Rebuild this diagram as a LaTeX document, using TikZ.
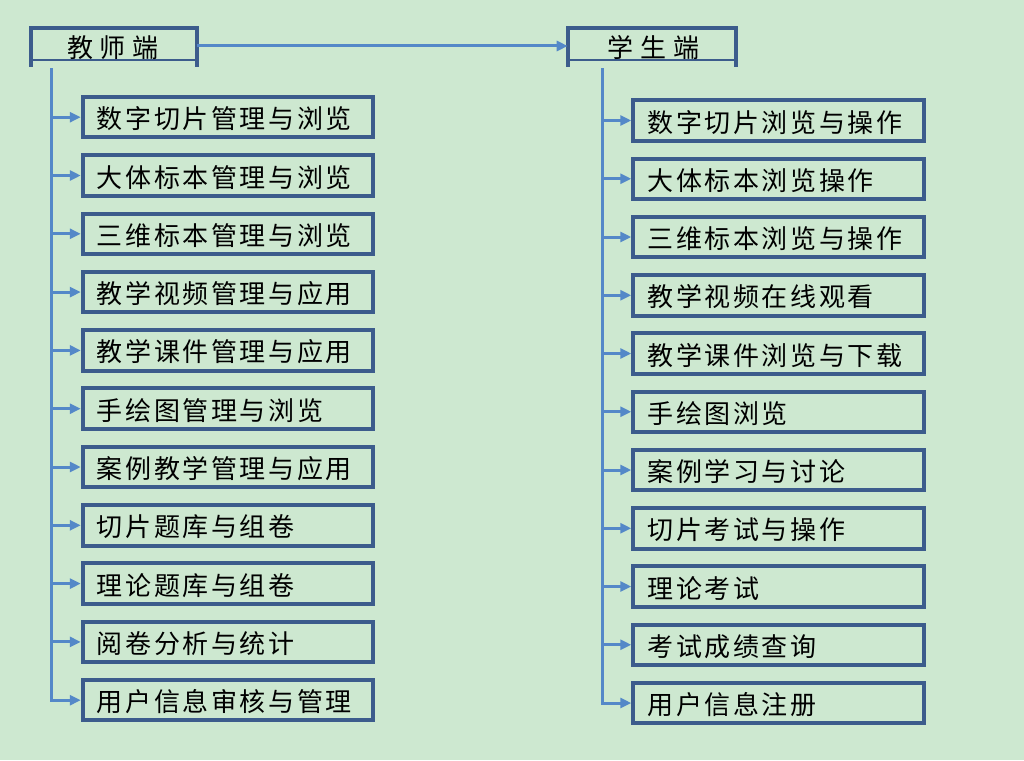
\documentclass[tikz,border=0pt]{standalone}
\usepackage{fontspec}
\usetikzlibrary{arrows.meta}
\newfontfamily\cjk{Noto Sans CJK SC}[LetterSpace=10]
\newfontfamily\cjkh{Noto Sans CJK SC}[LetterSpace=26]
\definecolor{bg}{RGB}{205,232,208}
\definecolor{boxblue}{RGB}{60,92,140}
\definecolor{linkblue}{RGB}{84,136,200}
\begin{document}
\begin{tikzpicture}[x=1pt,y=-1pt,
  bx/.style={draw=boxblue, line width=4pt, rectangle, minimum width=290.5pt, minimum height=40.5pt, inner sep=0pt},
  lbl/.style={anchor=base west, inner sep=0pt, font={\fontsize{26}{30}\selectfont\cjk}, text=black},
  hlbl/.style={anchor=base west, inner sep=0pt, font={\fontsize{26}{30}\selectfont\cjkh}, text=black},
  hd/.style={rectangle, inner sep=0pt, outer sep=0pt, minimum height=38pt},
  hdline/.style={draw=boxblue, line width=4pt},
  thinline/.style={draw=boxblue, line width=1.5pt},
  conn/.style={draw=linkblue, line width=3pt},
  arr/.style={conn, -{Triangle[length=11pt,width=10pt]}}
]
\fill[bg] (0,0) rectangle (1024,760);
\useasboundingbox (0,0) rectangle (1024,760);

% headers
\node[hd, minimum width=165.7pt] (th) at (113.85,47.5) {};
\node[hd, minimum width=168pt] (sh) at (651.7,47.5) {};
\draw[hdline] (th.south west) -- (th.north west) -- (th.north east) -- (th.south east);
\draw[hdline] (sh.south west) -- (sh.north west) -- (sh.north east) -- (sh.south east);
\draw[thinline] ([xshift=2pt,yshift=6.5pt]th.south west) -- ([xshift=-2pt,yshift=6.5pt]th.south east);
\draw[thinline] ([xshift=2pt,yshift=6.5pt]sh.south west) -- ([xshift=-2pt,yshift=6.5pt]sh.south east);
\node[hlbl] (thl) at ([xshift=36pt,yshift=8.7pt]th.south west) {教师端};
\node[hlbl] (shl) at ([xshift=39.6pt,yshift=8.7pt]sh.south west) {学生端};
\draw[arr] ([yshift=1.5pt]th.east) -- ([yshift=1.5pt]sh.west);

\coordinate (tt) at (51,68);
\coordinate (st) at (602.3,68);

% teacher column
\foreach \txt [count=\i] in {数字切片管理与浏览,大体标本管理与浏览,三维标本管理与浏览,教学视频管理与应用,教学课件管理与应用,手绘图管理与浏览,案例教学管理与应用,切片题库与组卷,理论题库与组卷,阅卷分析与统计,用户信息审核与管理}{
  \node[bx] (t\i) at (228,{117.2+58.3*(\i-1)}) {};
  \node[lbl] (tl\i) at ([xshift=16pt,yshift=-11.5pt]t\i.west) {\txt};
}
% student column
\foreach \txt [count=\i] in {数字切片浏览与操作,大体标本浏览操作,三维标本浏览与操作,教学视频在线观看,教学课件浏览与下载,手绘图浏览,案例学习与讨论,切片考试与操作,理论考试,考试成绩查询,用户信息注册}{
  \node[bx] (s\i) at (778.5,{120.5+58.25*(\i-1)}) {};
  \node[lbl] (sl\i) at ([xshift=16pt,yshift=-11.5pt]s\i.west) {\txt};
}

% connectors
\foreach \i in {1,...,10}{
  \draw[arr] (tt |- t\i.west) -- (t\i.west);
  \draw[arr] (st |- s\i.west) -- (s\i.west);
}
\draw[arr] (tt) |- (t11.west);
\draw[arr] (st) |- (s11.west);
\end{tikzpicture}
\end{document}
